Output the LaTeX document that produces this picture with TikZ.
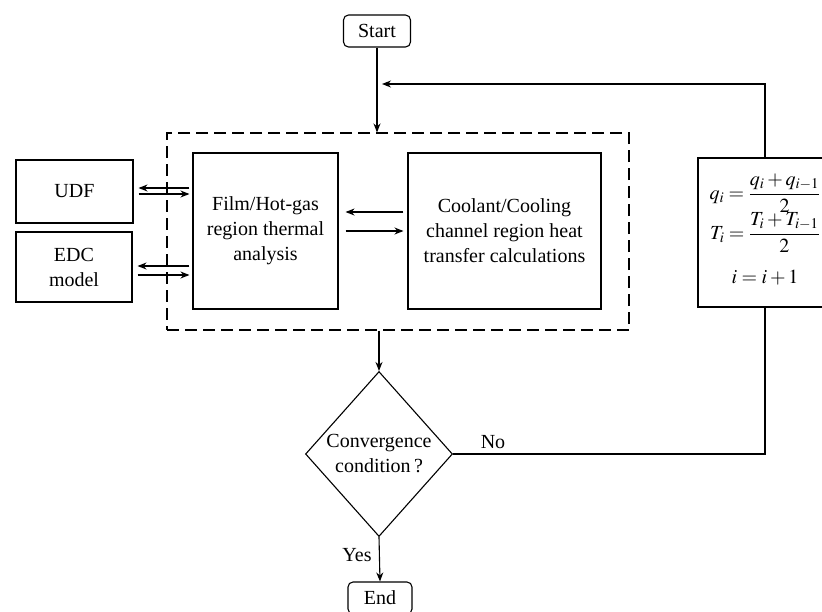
\documentclass[tikz,border=0pt]{standalone}
\usepackage{amsmath}
\usepackage{mathptmx}
\usepackage{fontspec}
\setmainfont{Liberation Serif}
\usepackage{tikz}
\usetikzlibrary{shapes.geometric, arrows.meta, calc}
\tikzstyle{startstop} = [
    rectangle,
    rounded corners=5pt,
    minimum width=67pt,
    minimum height=32pt,
    draw=black
]
\tikzstyle{process} = [
    rectangle,
    align=center,
    inner sep=0pt,
    draw=black
]
\tikzstyle{decision} = [
    diamond,
    align=center,
    inner sep=0pt,
    minimum width=147pt,
    minimum height=165pt,
    draw=black
]
\tikzstyle{group} = [
    rectangle,
    draw=black,
    dash pattern=on 12pt off 6pt
]
\tikzstyle{arrow} = [->,>={Stealth[length=9pt,width=7pt]}]

\begin{document}
\begin{tikzpicture}[x=1pt, y=-1pt, line width=1.1pt,
    font=\fontsize{20}{25}\selectfont]
\useasboundingbox (0,0) rectangle (822,611);

\node (start) [startstop] at (377,31) {Start};

% loop around the two solvers
\node (frame) [group, minimum width=462pt, minimum height=197pt] at (398,231.5) {};

\node (film) [process, minimum width=145pt, minimum height=156pt] at (265.5,231)
{Film/Hot-gas\\region thermal\\analysis};

\node (cool) [process, minimum width=193pt, minimum height=156pt] at (504.5,231)
{Coolant/Cooling\\channel region heat\\transfer calculations};

\node (udf) [process, minimum width=117pt, minimum height=63pt] at (74.5,191.5) {UDF};

\node (edc) [process, minimum width=116pt, minimum height=70pt] at (74,267)
{EDC\\model};

% update of q, T and the counter
\node (calc) [process, minimum width=134pt, minimum height=149pt] at (765,232.5)
{\rule{0pt}{19pt}\smash{$\displaystyle q_i=\frac{q_i+q_{i-1}}{2}$}\\[15pt]
\smash{$\displaystyle T_i=\frac{T_i+T_{i-1}}{2}$}\\[19pt]
$i=i+1$};

\node (cond) [decision] at (379,454) {Convergence\\condition\,?};

\node (end) [startstop, minimum width=64pt] at (380,598) {End};

\coordinate (back) at (382,84);

\draw [arrow] (start.south) -- (start.south |- frame.north);
\draw [arrow] (calc.north) |- (back);
\draw [arrow] (cond.north |- frame.south) -- (cond.north);
\draw (cond.east) -- (cond.east -| calc.south) -- (calc.south);
\draw [arrow] (cond.south) -- (end.north);

\node at (493,442) {No};
\node at (357,555) {Yes};

% exchange between the two regions
\draw [arrow] ([xshift=-4pt,yshift=19pt]cool.west) -- ([xshift=7pt,yshift=19pt]film.east);
\draw [arrow] ([xshift=7pt]film.east) -- ([xshift=-4pt]cool.west);

% coupling with UDF and EDC
\draw [arrow] ($(udf.east -| film.west)+(-3,-3.5)$) -- ($(udf.east)+(5,-3.5)$);
\draw [arrow] ($(udf.east)+(5,2.5)$) -- ($(udf.east -| film.west)+(-3,2.5)$);
\draw [arrow] ($(edc.east -| film.west)+(-3,-1)$) -- ($(edc.east)+(5,-1)$);
\draw [arrow] ($(edc.east)+(5,8)$) -- ($(edc.east -| film.west)+(-3,8)$);

\end{tikzpicture}
\end{document}
